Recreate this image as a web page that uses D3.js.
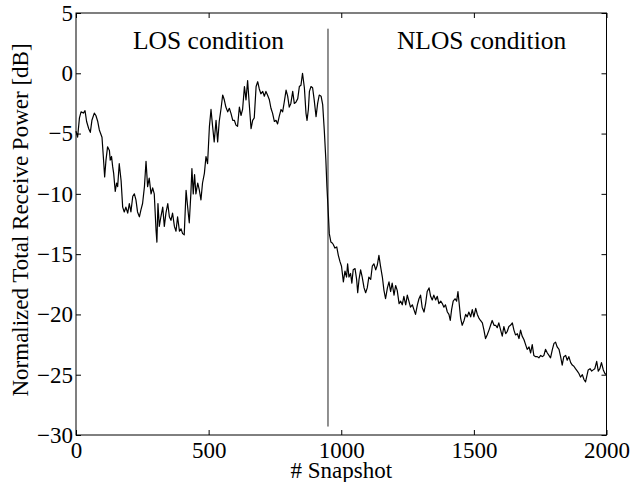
<!DOCTYPE html>
<html>
<head>
<meta charset="utf-8">
<script src="https://cdn.jsdelivr.net/npm/d3@7"></script>
<style>
  body { margin: 0; background: #fff; }
</style>
</head>
<body>
<div id="chart"></div>
<script>
// snapshot index and normalized power [dB]
const snapshot = [0,6,13,19,28,34,40,48,54,60,69,75,82,88,98,103,108,113,119,126,129,134,138,142,148,153,157,163,170,176,
  182,188,195,201,207,214,220,226,232,239,245,251,258,264,270,276,283,289,295,302,305,309,314,320,327,333,339,346,352,358,
  364,371,377,383,390,396,402,408,415,421,427,433,437,442,447,452,459,465,471,477,484,490,496,503,509,515,521,528,534,540,
  547,553,559,565,572,578,584,591,597,603,609,616,622,628,635,641,647,653,660,666,672,679,685,691,697,704,710,716,722,729,
  735,741,748,754,760,766,773,779,785,792,798,804,810,817,823,829,836,842,848,854,861,867,871,876,880,886,892,898,905,911,
  917,924,930,936,942,946,950,955,961,967,970,976,983,989,995,1001,1008,1014,1020,1024,1029,1035,1040,1045,1052,1058,1062,1067,1073,1079,
  1086,1092,1098,1104,1111,1117,1123,1130,1136,1142,1148,1155,1161,1167,1174,1180,1186,1192,1199,1205,1211,1218,1224,1230,1236,1243,1249,1255,1261,1268,
  1274,1280,1287,1293,1299,1305,1312,1318,1324,1331,1337,1343,1349,1356,1362,1368,1375,1381,1387,1393,1400,1406,1411,1416,1422,1429,1435,1440,1445,1450,
  1456,1463,1469,1475,1481,1488,1494,1500,1507,1513,1519,1525,1532,1538,1544,1550,1557,1563,1569,1576,1582,1588,1594,1601,1607,1613,1620,1626,1632,1638,
  1645,1651,1657,1664,1670,1676,1682,1689,1695,1701,1708,1714,1720,1726,1733,1739,1745,1752,1758,1764,1770,1777,1783,1789,1796,1802,1808,1814,1821,1827,
  1833,1839,1846,1852,1858,1865,1871,1877,1883,1890,1896,1902,1909,1915,1921,1925,1931,1938,1944,1950,1956,1963,1969,1975,1981,1988,1994,1998];
const power = [-4.8,-5.3,-3.7,-3.2,-3.3,-3.1,-4.0,-4.6,-4.9,-3.9,-3.3,-3.5,-4.0,-4.7,-5.3,-6.9,-8.6,-7.2,-6.1,-6.4,-7.2,-6.9,-7.7,-8.3,-9.8,-9.1,-9.4,-7.5,-8.9,-11.1,
  -11.5,-11.1,-11.6,-10.8,-11.5,-10.2,-10.0,-10.5,-11.5,-11.9,-11.3,-10.8,-9.4,-7.3,-9.4,-8.7,-10.0,-9.5,-10.0,-13.1,-14.0,-10.8,-12.7,-11.9,-11.1,-12.7,-11.6,-10.8,-11.9,-12.2,
  -11.6,-12.7,-13.1,-11.9,-13.1,-12.9,-13.3,-13.4,-9.7,-11.1,-12.4,-10.0,-7.9,-10.0,-8.4,-10.0,-9.1,-9.7,-10.5,-9.1,-8.3,-6.9,-7.5,-4.4,-3.0,-4.4,-5.7,-3.9,-5.7,-4.0,
  -2.9,-1.8,-2.2,-2.8,-3.2,-2.9,-3.3,-3.9,-3.9,-4.3,-4.4,-2.8,-3.5,-3.0,-1.1,-2.2,-0.6,-2.5,-4.6,-3.9,-3.7,-1.1,-0.7,-1.3,-1.7,-1.5,-1.9,-1.5,-1.8,-2.2,
  -2.9,-3.3,-4.0,-3.9,-4.2,-3.6,-3.0,-3.2,-2.4,-1.4,-1.9,-2.8,-2.5,-1.5,-2.5,-2.4,-2.1,-1.1,-1.0,0.0,-1.2,-3.3,-3.9,-3.0,-1.5,-1.1,-1.2,-2.2,-3.6,-2.5,
  -1.8,-1.9,-2.6,-4.7,-7.2,-9.4,-11.1,-13.3,-14.0,-14.1,-14.2,-14.5,-14.4,-15.1,-15.6,-16.0,-17.3,-16.4,-16.9,-15.8,-16.9,-16.6,-17.4,-16.3,-16.2,-17.1,-18.2,-17.1,-16.3,-16.9,
  -17.8,-18.2,-17.8,-16.9,-17.1,-16.0,-15.8,-16.3,-15.9,-15.1,-16.0,-16.9,-18.0,-18.7,-17.8,-17.3,-18.1,-17.4,-18.4,-17.6,-18.0,-19.1,-18.9,-19.2,-18.5,-19.2,-18.4,-18.9,-19.4,-19.2,
  -19.6,-20.0,-19.2,-18.7,-18.4,-19.4,-19.8,-19.1,-18.1,-17.8,-18.5,-18.8,-18.4,-18.8,-18.5,-19.1,-18.9,-19.1,-19.4,-19.2,-19.8,-20.0,-20.5,-19.6,-18.9,-18.7,-18.9,-18.1,-19.2,-20.3,
  -20.9,-20.5,-20.0,-20.2,-19.8,-20.2,-19.6,-20.2,-19.5,-20.0,-20.3,-20.5,-20.7,-21.3,-22.0,-21.7,-21.3,-20.9,-20.5,-20.9,-20.9,-21.1,-20.7,-21.3,-21.8,-21.0,-21.6,-21.4,-21.0,-20.9,
  -20.7,-21.3,-21.7,-21.6,-22.0,-21.3,-21.8,-22.1,-22.5,-22.9,-22.7,-23.2,-22.5,-23.4,-23.5,-23.5,-23.6,-23.4,-23.5,-23.4,-22.9,-23.2,-23.4,-23.6,-22.9,-22.4,-22.3,-22.7,-22.9,-23.5,
  -24.2,-23.5,-23.4,-23.8,-23.5,-24.0,-24.2,-24.3,-24.5,-24.7,-24.9,-25.2,-25.0,-25.4,-25.6,-25.2,-24.6,-24.5,-24.7,-24.6,-24.5,-23.9,-24.7,-24.5,-24.0,-24.6,-24.9,-25.0];

// LOS/NLOS boundary marker
const boundary = { snapshot: 950, from: -29.3, to: 3.7 };
const regionLabels = [
  { text: "LOS condition", snapshot: 215, power: 2.0 },
  { text: "NLOS condition", snapshot: 1210, power: 2.0 }
];
const xTicks = [0, 500, 1000, 1500, 2000];
const yTicks = [-30, -25, -20, -15, -10, -5, 0, 5];

const data = snapshot.map((s, i) => ({ s: s, p: power[i] }));

var width = 633, height = 482,
  margin = { top: 13, right: 26.5, bottom: 47, left: 76 };

var x = d3.scaleLinear().domain([0, 2000]).range([margin.left, width - margin.right]);
var y = d3.scaleLinear().domain([-30, 5]).range([height - margin.bottom, margin.top]);

const svg = d3.select("#chart").append("svg")
  .attr("width", width)
  .attr("height", height);

const fs = 23;
const serif = "'Liberation Serif', 'Times New Roman', Times, serif";

// axes with inward ticks
xAxis = g => g
  .attr("transform", `translate(0,${height - margin.bottom})`)
  .call(d3.axisBottom(x).tickValues(xTicks).tickFormat(d3.format("d"))
    .tickSizeInner(-5).tickSizeOuter(0).tickPadding(7))
  .call(g => g.select(".domain").remove());

yAxis = g => g
  .attr("transform", `translate(${margin.left},0)`)
  .call(d3.axisLeft(y).tickValues(yTicks).tickSizeInner(-5).tickSizeOuter(0).tickPadding(3))
  .call(g => g.select(".domain").remove());

xTop = g => g
  .attr("transform", `translate(0,${margin.top})`)
  .call(d3.axisTop(x).tickValues(xTicks).tickSizeInner(-5).tickSizeOuter(0).tickFormat(""))
  .call(g => g.select(".domain").remove());

yRight = g => g
  .attr("transform", `translate(${width - margin.right},0)`)
  .call(d3.axisRight(y).tickValues(yTicks).tickSizeInner(-5).tickSizeOuter(0).tickFormat(""))
  .call(g => g.select(".domain").remove());

[xAxis, yAxis, xTop, yRight].forEach(a => {
  svg.append("g").call(a)
    .attr("font-family", serif)
    .call(g => g.selectAll(".tick line").attr("stroke", "#000"))
    .call(g => g.selectAll(".tick text").attr("fill", "#000").attr("font-size", fs));
});

// box
svg.append("rect")
  .attr("x", margin.left)
  .attr("y", margin.top)
  .attr("width", width - margin.left - margin.right)
  .attr("height", height - margin.top - margin.bottom)
  .attr("fill", "none")
  .attr("stroke", "#000")
  .attr("stroke-width", 1);

// boundary line
svg.append("line")
  .attr("x1", x(boundary.snapshot))
  .attr("x2", x(boundary.snapshot))
  .attr("y1", y(boundary.from))
  .attr("y2", y(boundary.to))
  .style("stroke", "#222")
  .style("stroke-width", 1);

// power trace
svg.append("path")
  .datum(data)
  .attr("fill", "none")
  .attr("stroke", "#000")
  .attr("stroke-width", 1.2)
  .attr("stroke-linejoin", "round")
  .attr("d", d3.line().x(d => x(d.s)).y(d => y(d.p)));

svg.selectAll(".region")
  .data(regionLabels)
  .enter().append("text")
  .attr("x", d => x(d.snapshot))
  .attr("y", d => y(d.power))
  .attr("font-family", serif)
  .attr("font-size", 25.5)
  .text(d => d.text);

svg.append("text")
  .attr("x", (margin.left + width - margin.right) / 2)
  .attr("y", 478)
  .attr("text-anchor", "middle")
  .attr("font-family", serif)
  .attr("font-size", fs)
  .text("# Snapshot");

svg.append("text")
  .attr("transform", `translate(28,${(margin.top + height - margin.bottom) / 2 - 4}) rotate(-90)`)
  .attr("text-anchor", "middle")
  .attr("font-family", serif)
  .attr("font-size", fs)
  .text("Normalized Total Receive Power [dB]");
</script>
</body>
</html>
